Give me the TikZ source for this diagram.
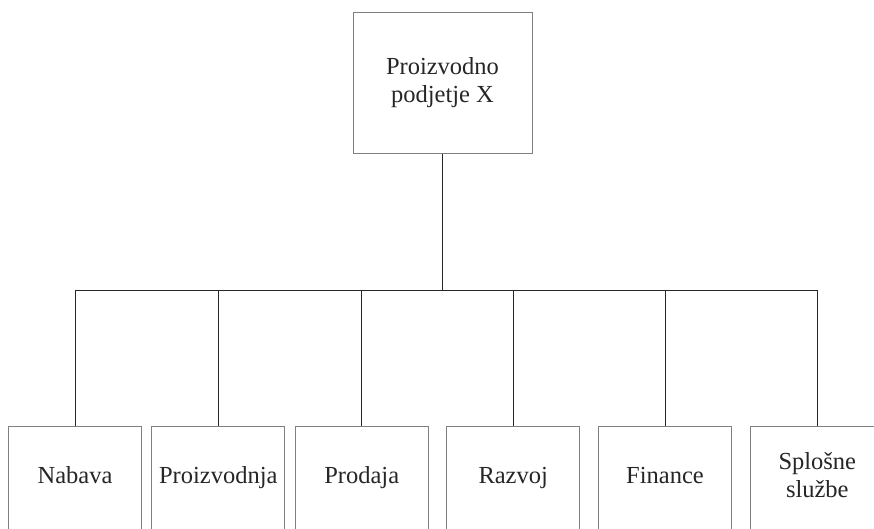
\documentclass[tikz,border=0pt]{standalone}
\usepackage{fontspec}
\setmainfont{Liberation Serif}
\begin{document}
\begin{tikzpicture}[x=1pt,y=-1pt,
  box/.style={draw=black!50,line width=0.8pt,fill=white,rectangle,inner sep=0pt,
    align=center,font=\fontsize{24.5}{28}\selectfont,text=black!85},
  topbox/.style={box,minimum width=179pt,minimum height=141pt},
  unitbox/.style={box,minimum width=133pt,minimum height=104pt},
  conn/.style={draw=black!85,line width=0.9pt}]
\useasboundingbox (0,0) rectangle (874,529);
\node[topbox] (top) at (442.5,83.4) {\strut Proizvodno\\\strut podjetje X};
\coordinate (bus) at (442.5,290);
\node[unitbox] (b1) at (75,478) {\strut Nabava};
\node[unitbox] (b2) at (218.3,478) {\strut Proizvodnja};
\node[unitbox] (b3) at (361.7,478) {\strut Prodaja};
\node[unitbox] (b4) at (513.2,478) {\strut Razvoj};
\node[unitbox] (b5) at (665,478) {\strut Finance};
\node[unitbox] (b6) at (817.3,478) {\strut Splošne\\\strut službe};
\draw[conn] (top.south) -- (bus);
\foreach \b in {b1,b2,b3,b4,b5,b6}
  \draw[conn] (\b.north) |- (bus);
\end{tikzpicture}
\end{document}
